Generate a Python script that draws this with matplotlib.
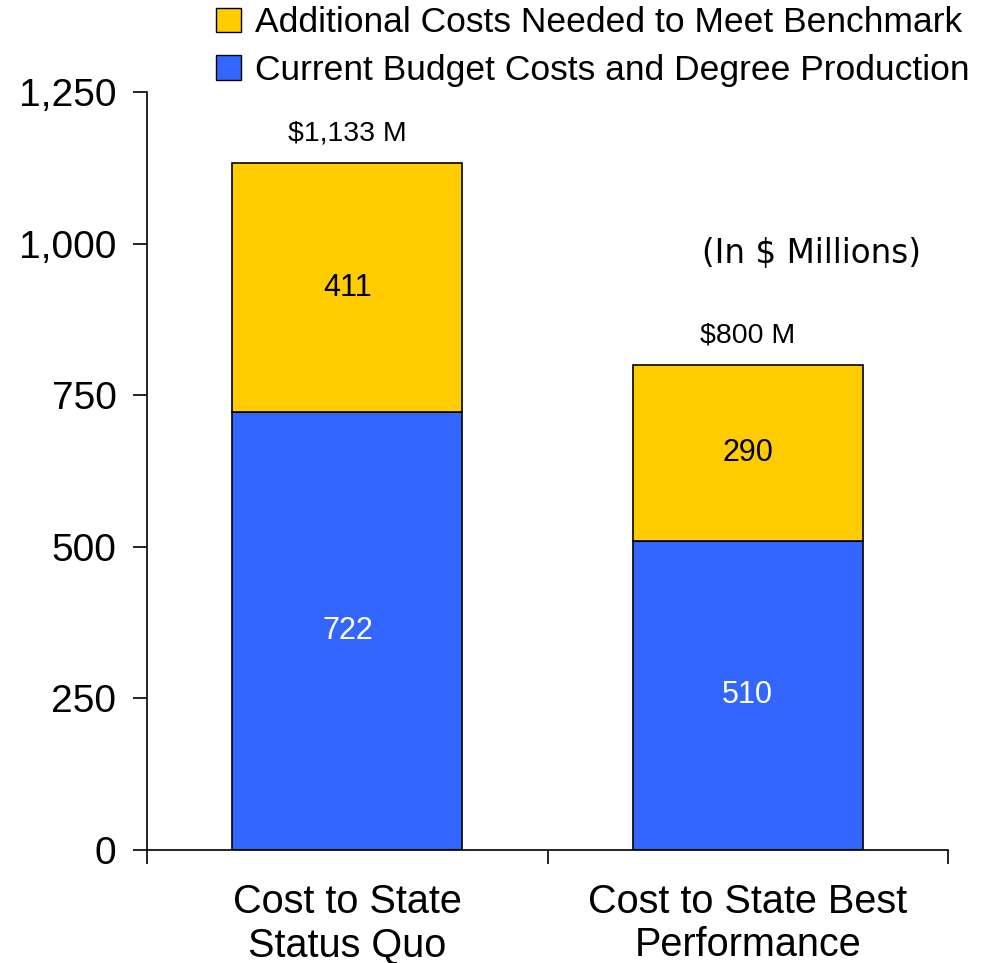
import matplotlib.pyplot as plt
from matplotlib.patches import Patch

categories = ['Cost to State\nStatus Quo', 'Cost to State Best\nPerformance']
current = [722, 510]
additional = [411, 290]
totals = ['$1,133 M', '$800 M']

blue = '#3366FF'
yellow = '#FFCC00'

plt.rcParams['font.family'] = ['Liberation Sans', 'DejaVu Sans']

fig = plt.figure(figsize=(9.96, 9.63), dpi=100)
ax = fig.add_axes([0.1476, 0.1173, 0.8042, 0.7872])

x = list(range(len(categories)))
w = 0.574
ax.bar(x, current, width=w, color=blue, edgecolor='black', linewidth=1.2)
ax.bar(x, additional, width=w, bottom=current, color=yellow, edgecolor='black', linewidth=1.2)

for i in x:
    ax.text(i, current[i] / 2, str(current[i]), ha='center', va='center',
            fontsize=22, color='white')
    ax.text(i, current[i] + additional[i] / 2, str(additional[i]), ha='center',
            va='center', fontsize=22, color='black')
    ax.annotate(totals[i], (i, current[i] + additional[i]), xytext=(0, 12),
                textcoords='offset points', ha='center', va='bottom', fontsize=20.5)

ax.text(1.16, 984, '(In $ Millions)', ha='center', va='center', fontsize=23.5,
        family='DejaVu Sans')

ax.set_xlim(-0.5, 1.5)
ax.set_ylim(0, 1250)
ax.set_yticks([0, 250, 500, 750, 1000, 1250])
ax.set_yticklabels(['0', '250', '500', '750', '1,000', '1,250'])
ax.tick_params(axis='y', labelsize=28, length=10, width=1.2, direction='out', pad=12)

# category boundaries get tick marks, labels sit on minor ticks at bar centres
ax.set_xticks([-0.5, 0.5, 1.5])
ax.set_xticklabels([])
ax.set_xticks(x, minor=True)
ax.set_xticklabels(categories, minor=True, fontsize=28.5, linespacing=1.15)
ax.tick_params(axis='x', which='major', length=10, width=1.2, direction='out')
ax.tick_params(axis='x', which='minor', length=0, pad=24)

for s in ['top', 'right']:
    ax.spines[s].set_visible(False)
for s in ['left', 'bottom']:
    ax.spines[s].set_linewidth(1.2)

handles = [Patch(facecolor=yellow, edgecolor='black', label='Additional Costs Needed to Meet Benchmark'),
           Patch(facecolor=blue, edgecolor='black', label='Current Budget Costs and Degree Production'),]
fig.legend(handles=handles, loc='upper right', bbox_to_anchor=(0.998, 1.019), frameon=False,
           prop={'size': 25.5}, handlelength=0.7, handleheight=0.7, handletextpad=0.4,
           labelspacing=0.4, borderpad=0.2)

fig.savefig('out.png', dpi=100)
